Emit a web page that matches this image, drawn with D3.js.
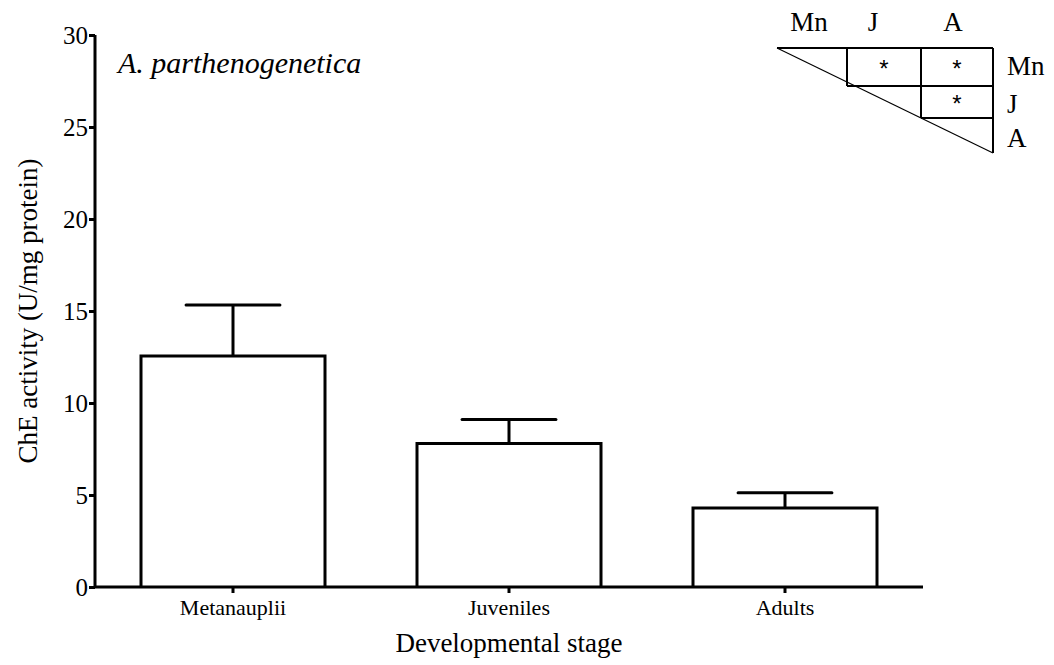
<!DOCTYPE html>
<html>
<head>
<meta charset="utf-8">
<script src="https://cdn.jsdelivr.net/npm/d3@7"></script>
<style>
  html, body { margin: 0; padding: 0; background: #fff; }
  svg { display: block; }
  text { font-family: "Liberation Serif", "Times New Roman", serif; fill: #000; }
</style>
</head>
<body>
<svg id="chart" width="1054" height="665"></svg>
<script>
// ---- data ----
const categories = ["Metanauplii", "Juveniles", "Adults"];
const means = [12.55, 7.8, 4.3];
const sems = [2.78, 1.3, 0.82];
const yTicks = [0, 5, 10, 15, 20, 25, 30];
const abbrevs = ["Mn", "J", "A"];
// significant pairwise differences [row, col]
const sigPairs = [[0, 1], [0, 2], [1, 2]];

(function () {
const svg = d3.select("#chart");
const pLeft = 95, pRight = 923, pTop = 35, pBottom = 587;
const serif = "Liberation Serif";

const x = d3.scaleBand().domain(categories).range([pLeft, pRight]).paddingInner(1/3).paddingOuter(1/6);
const y = d3.scaleLinear().domain([0, 30]).range([pBottom, pTop]);

// y axis
const yAxis = svg.append("g").attr("transform", `translate(${pLeft},0)`)
  .call(d3.axisLeft(y).tickValues(yTicks).tickSize(6).tickPadding(1).tickFormat(d3.format("d")));
yAxis.select(".domain").attr("stroke-width", 3).attr("d", `M0,${pTop}V${pBottom}`);
yAxis.selectAll(".tick line").attr("stroke-width", 3);
yAxis.selectAll(".tick text").style("font-size", "25px").style("font-family", serif).attr("dy", "0.33em");

// x axis
const xAxis = svg.append("g").attr("transform", `translate(0,${pBottom})`)
  .call(d3.axisBottom(x).tickSize(6).tickPadding(6));
xAxis.select(".domain").attr("stroke-width", 3).attr("d", `M${pLeft},0H${pRight}`);
xAxis.selectAll(".tick line").attr("stroke-width", 3);
xAxis.selectAll(".tick text").style("font-size", "22px").style("font-family", serif);

// bars
const g = svg.append("g");
categories.forEach((c, i) => {
  const bx = x(c), bw = x.bandwidth(), cx = bx + bw / 2;
  const capW = bw * 0.51;
  g.append("line").attr("x1", cx).attr("x2", cx).attr("y1", y(means[i])).attr("y2", y(means[i] + sems[i]))
    .attr("stroke", "#000").attr("stroke-width", 3);
  g.append("line").attr("x1", cx - capW / 2).attr("x2", cx + capW / 2)
    .attr("y1", y(means[i] + sems[i])).attr("y2", y(means[i] + sems[i]))
    .attr("stroke", "#000").attr("stroke-width", 3).attr("stroke-linecap", "round");
  g.append("path")
    .attr("d", `M${bx},${y(0)}V${y(means[i])}H${bx + bw}V${y(0)}`)
    .attr("fill", "none").attr("stroke", "#000").attr("stroke-width", 3).attr("stroke-linejoin", "miter");
});

// axis titles
svg.append("text").attr("x", 509).attr("y", 652).attr("text-anchor", "middle")
  .style("font-size", "27px").text("Developmental stage");
svg.append("text").attr("transform", `translate(37,${(pTop + pBottom) / 2}) rotate(-90)`)
  .attr("text-anchor", "middle").style("font-size", "27px").text("ChE activity (U/mg protein)");

// species label
svg.append("text").attr("x", 118).attr("y", 73).style("font-size", "30px").style("font-style", "italic")
  .text("A. parthenogenetica");

// ---- inset significance table ----
const colX = [777, 847, 921, 993];
const rowY = [48, 86, 118, 153];
const ins = svg.append("g").attr("stroke", "#000").attr("fill", "none");
ins.append("line").attr("x1", colX[0]).attr("x2", colX[3]).attr("y1", rowY[0]).attr("y2", rowY[0]).attr("stroke-width", 2);
for (let r = 1; r < 3; r++) {
  ins.append("line").attr("x1", colX[r]).attr("x2", colX[3]).attr("y1", rowY[r]).attr("y2", rowY[r]).attr("stroke-width", 2);
}
for (let c = 1; c < 4; c++) {
  ins.append("line").attr("x1", colX[c]).attr("x2", colX[c]).attr("y1", rowY[0]).attr("y2", rowY[c]).attr("stroke-width", 2);
}
ins.append("line").attr("x1", colX[0]).attr("y1", rowY[0]).attr("x2", colX[3]).attr("y2", rowY[3]).attr("stroke-width", 1.2);

abbrevs.forEach((a, i) => {
  svg.append("text").attr("x", [809, 873, 953][i]).attr("y", 31).attr("text-anchor", "middle")
    .style("font-size", "27px").text(a);
});
const rowBase = [75, 113, 147];
abbrevs.forEach((a, i) => {
  svg.append("text").attr("x", 1007).attr("y", rowBase[i])
    .style("font-size", "27px").text(a);
});
sigPairs.forEach(([r, c]) => {
  svg.append("text").attr("x", (colX[c] + colX[c + 1]) / 2).attr("y", (rowY[r] + rowY[r + 1]) / 2 + 10)
    .attr("text-anchor", "middle").style("font-family", "Liberation Sans").style("font-size", "24px").text("*");
});
})();
</script>
</body>
</html>
